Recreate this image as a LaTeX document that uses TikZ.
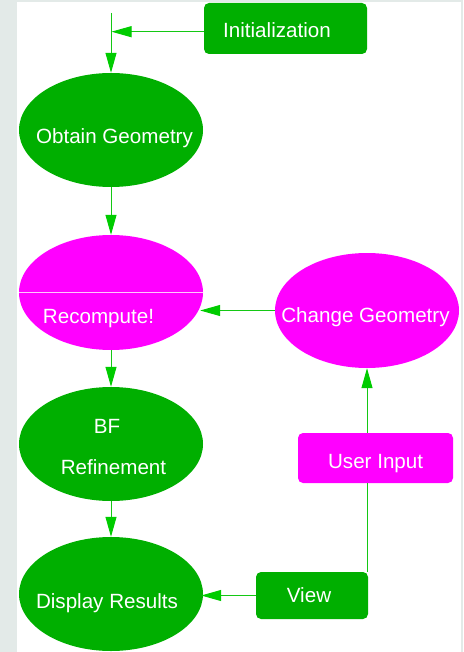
\documentclass[tikz,border=0pt]{standalone}
\usepackage{fontspec}
\setmainfont{Liberation Sans}
\usetikzlibrary{arrows.meta,shapes.geometric}

\definecolor{leafgreen}{RGB}{0,175,0}
\definecolor{linkgreen}{RGB}{20,200,20}
\definecolor{tipgreen}{RGB}{0,204,0}
\definecolor{hotpink}{RGB}{255,0,255}
\definecolor{paleline}{RGB}{255,200,255}
\definecolor{pagegray}{RGB}{227,234,232}

\tikzset{
  blob/.style={ellipse, draw=none, inner sep=0pt, minimum width=184pt, minimum height=115pt},
  tag/.style={rectangle, rounded corners=5pt, draw=none, inner sep=0pt},
  label text/.style={text=white, anchor=base, inner sep=0pt,
    font=\fontsize{20.6}{24}\selectfont},
  link/.style={draw=linkgreen, line width=1pt},
  flow/.style={link, -{Triangle[length=20pt,width=11pt,color=tipgreen]}},
}

\begin{document}
\begin{tikzpicture}[x=1pt,y=-1pt]
  % page
  \fill[pagegray] (0,0) rectangle (463,652);
  \fill[white] (17,2) rectangle (461,652);
  \useasboundingbox (0,0) rectangle (463,652);

  % shapes
  \node[tag, fill=leafgreen, minimum width=163pt, minimum height=51pt] (init) at (285.5,28.5) {};
  \node[blob, fill=leafgreen, minimum height=114pt] (obtain) at (111,130) {};
  \node[blob, fill=hotpink] (recompute) at (111,292.5) {};
  \node[blob, fill=hotpink] (change) at (367,310.5) {};
  \node[blob, fill=leafgreen, minimum height=114pt] (bf) at (111,444) {};
  \node[blob, fill=leafgreen, minimum height=114pt] (display) at (111,594) {};
  \node[tag, fill=hotpink, minimum width=155pt, minimum height=50pt] (user) at (375.5,458) {};
  \node[tag, fill=leafgreen, minimum width=112pt, minimum height=47pt] (view) at (312,595.5) {};

  % divider across the recompute node
  \draw[paleline, line width=1pt] (recompute.west) -- (recompute.east);

  % texts
  \node[label text] (tinit) at (277,38) {Initialization};
  \node[label text] (tobtain) at (114.5,144) {Obtain Geometry};
  \node[label text] (trecompute) at (98.5,323) {Recompute!};
  \node[label text] (tchange) at (365.5,322) {Change Geometry};
  \node[label text] (tbf) at (107,433.5) {BF};
  \node[label text] (tbfref) at (113.5,474) {Refinement};
  \node[label text] (tdisplay) at (107,608) {Display Results};
  \node[label text] (tview) at (309,602) {View};
  \node[label text] (tuser) at (375.6,468) {User Input};

  % connectors
  \coordinate (start) at (111,13);
  \coordinate (join) at (111.5,31.7);
  \draw[flow] (start) -- (obtain.north);
  \draw[flow] (init.west |- join) -- (join);
  \draw[flow] (obtain.south) -- (recompute.north);
  \draw[flow, shorten >=-3pt] (change.west) -- (change.west -| recompute.east);
  \draw[flow] (recompute.south) -- (bf.north);
  \draw[flow] (bf.south) -- (display.north);
  \draw[flow, shorten >=-2pt] (view.west) -- (view.west -| display.east);
  \draw[link] (change.south |- view.north) -- (change.south |- user.south);
  \draw[flow] (change.south |- user.north) -- (change.south);
\end{tikzpicture}
\end{document}
